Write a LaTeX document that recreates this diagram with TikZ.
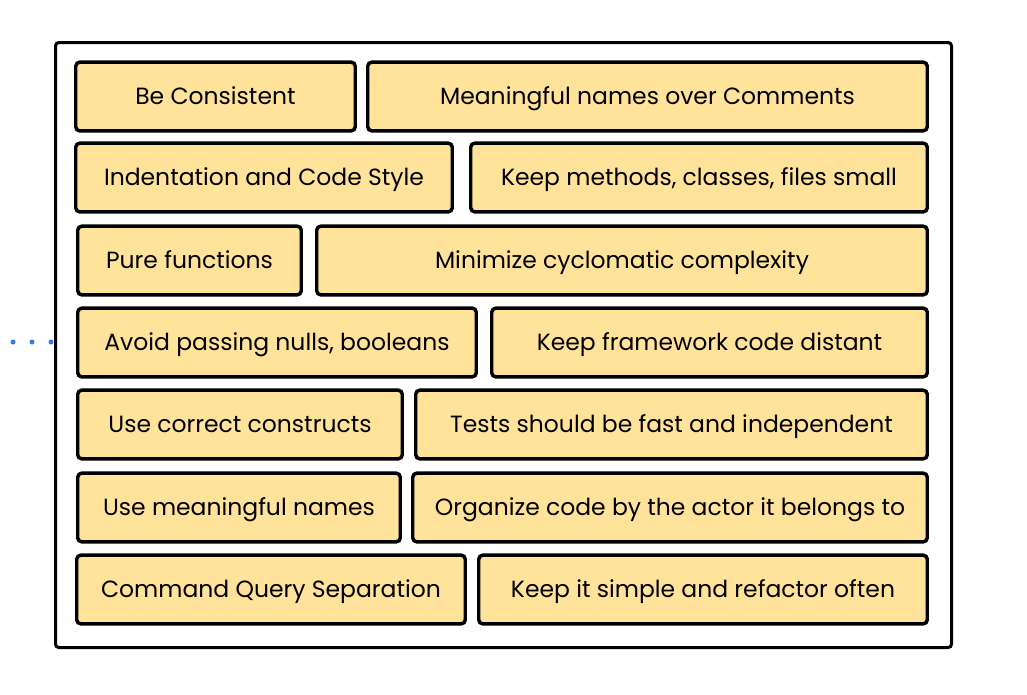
\documentclass[tikz,border=0pt]{standalone}
\usepackage{fontspec}
\setmainfont{Poppins}
\usetikzlibrary{positioning}
\definecolor{brickfill}{HTML}{FFE39B}
\definecolor{dotblue}{HTML}{2F7CE8}
\tikzstyle{brick}=[draw,rectangle,rounded corners=3pt,fill=brickfill,
  line width=2.6pt,inner sep=0,text height=12.5pt,text depth=0pt,
  font=\fontsize{17.6}{20}\selectfont]
\tikzstyle{board}=[draw,rectangle,rounded corners=2.5pt,line width=2.25pt,
  inner sep=0,minimum width=672pt,minimum height=453.75pt]
\tikzstyle{dotline}=[dotblue,line width=3.75pt,line cap=round,
  dash pattern=on 0pt off 14.25pt]

\begin{document}
\begin{tikzpicture}[x=0.75pt,y=-0.75pt]
    \useasboundingbox (0,0) rectangle (1027,694);

    % outer box
    \node [board] (board) at (503.5,345) {};

    % rows of principles: row/top/left/split a/split b/text a/text b
    \foreach \row/\ytop/\xl/\xa/\xb/\ta/\tb in {
      1/61/74/357/366/{Be Consistent}/{Meaningful names over Comments},
      2/142/74/454/469/{Indentation and Code Style}/{Keep methods, classes, files small},
      3/225/76/303/315/{Pure functions}/{Minimize cyclomatic complexity},
      4/307/76/478/490/{Avoid passing nulls, booleans}/{Keep framework code distant},
      5/389/76/404/414/{Use correct constructs}/{Tests should be fast and independent},
      6/472/76/402/411/{Use meaningful names}/{Organize code by the actor it belongs to},
      7/554/75/467/477/{Command Query Separation}/{Keep it simple and refactor often}} {
      \node [brick,minimum width={(\xa-\xl-3.5)*0.75pt},minimum height=51.5pt]
        (r\row a) at ({(\xl+\xa)/2},\ytop+35.5) {\ta};
      \node [brick,minimum width={(929-\xb-3.5)*0.75pt},minimum height=51.5pt]
        (r\row b) at ({(\xb+929)/2},\ytop+35.5) {\tb};
    }

    % dotted lead-in
    \coordinate (dotstart) at (13,342);
    \draw [dotline] (dotstart) -- (dotstart -| board.west);
\end{tikzpicture}
\end{document}
